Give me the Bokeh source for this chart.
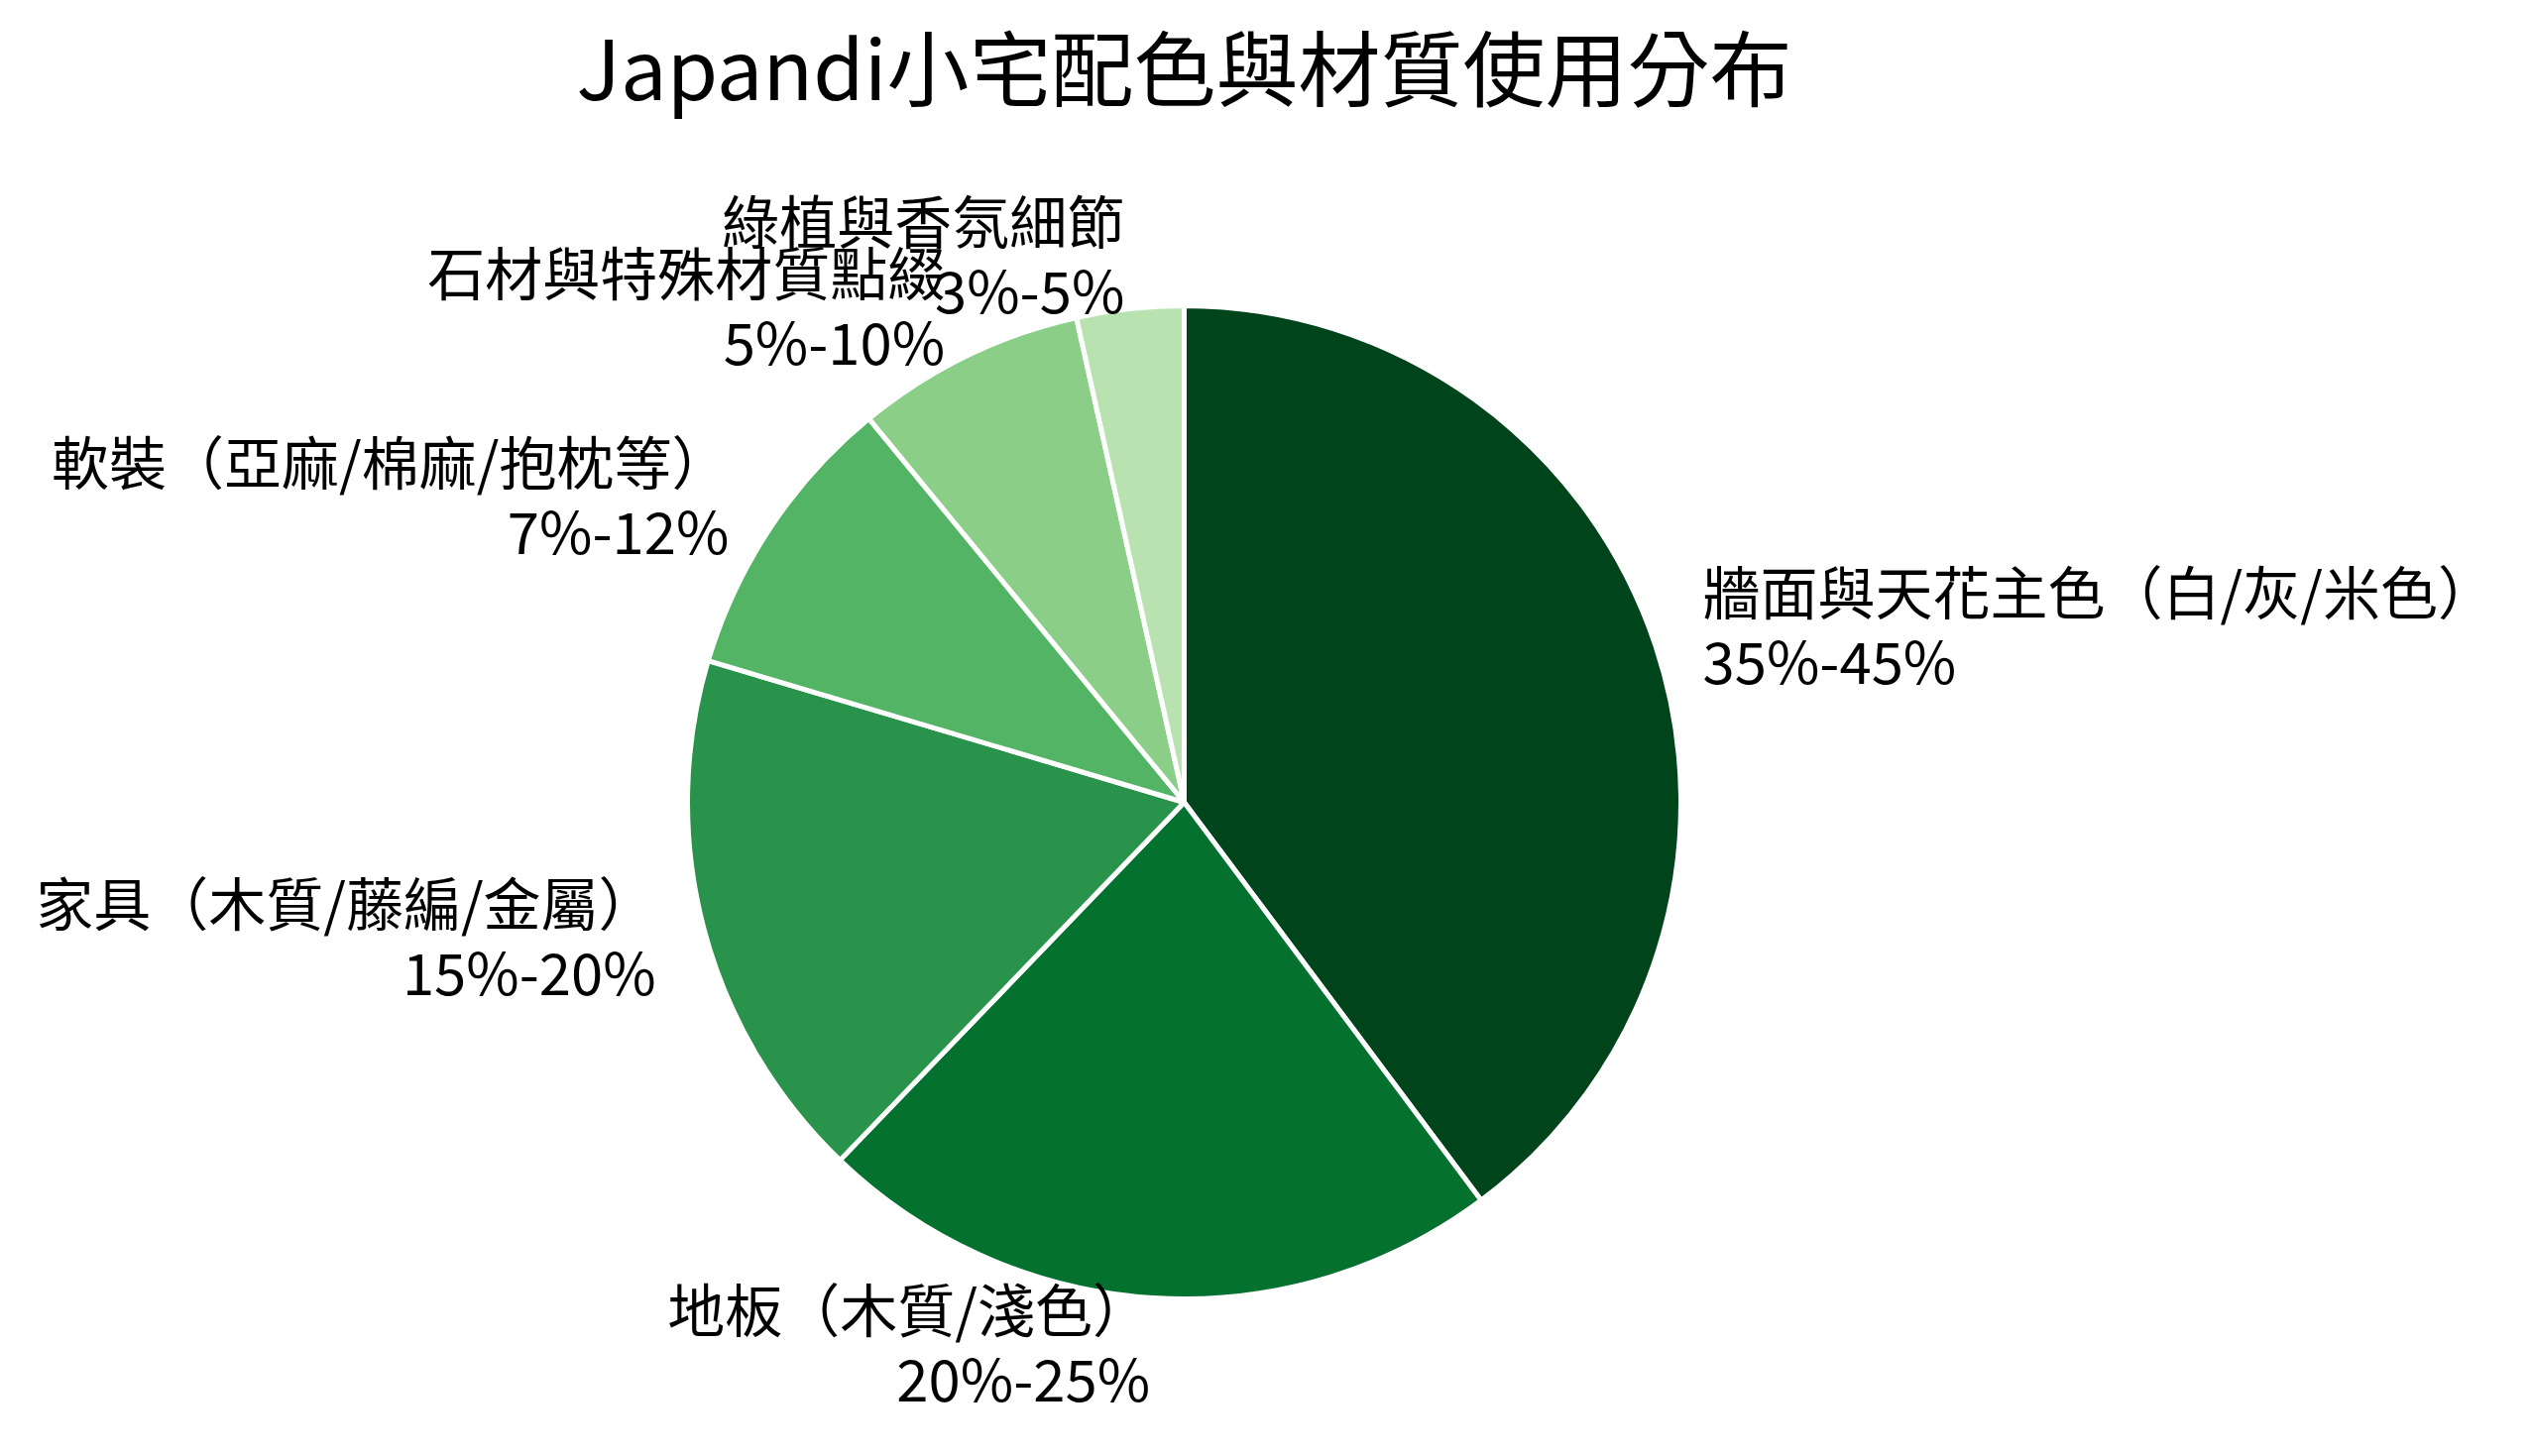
import numpy as np
from bokeh.plotting import figure
from bokeh.models import Range1d, ColumnDataSource
from bokeh.core.properties import value
from bokeh.embed import file_html
from bokeh.resources import INLINE

# slices, clockwise from 12 o'clock
categories = ["牆面與天花主色（白/灰/米色）", "地板（木質/淺色）", "家具（木質/藤編/金屬）",
              "軟裝（亞麻/棉麻/抱枕等）", "石材與特殊材質點綴", "綠植與香氛細節"]
ranges = ["35%-45%", "20%-25%", "15%-20%", "7%-12%", "5%-10%", "3%-5%"]
shares = [40, 22.5, 17.5, 9.5, 7.5, 3.5]
colors = ["#00441b", "#04712f", "#2a934b", "#53b466", "#8ace88", "#b8e3b1"]

title = "Japandi小宅配色與材質使用分布"
FONT = "Noto Sans CJK TC"

W, H = 2537, 1453
R = 501            # pie radius, px
CX, CY = 1194, 809  # pie centre, px from figure top-left

vals = np.array(shares, dtype=float)
cum = np.concatenate([[0], np.cumsum(vals)]) / vals.sum()
start = np.pi / 2 - 2 * np.pi * cum[:-1]
end = np.pi / 2 - 2 * np.pi * cum[1:]
mid = (start + end) / 2
lx = 1.1 * np.cos(mid)
ly = 1.1 * np.sin(mid)

src = ColumnDataSource(dict(
    start=start, end=end, color=colors,
    lx=lx, ly=ly, name=categories, rng=ranges,
    align=["left" if v > 0 else "right" for v in lx],
))

p = figure(width=W, height=H,
           x_range=Range1d(-CX / R, (W - CX) / R),
           y_range=Range1d(-(H - CY) / R, CY / R),
           min_border=0, toolbar_location=None, output_backend="svg")
p.axis.visible = False
p.grid.visible = False
p.outline_line_color = None
p.background_fill_color = "white"
p.border_fill_color = "white"

p.wedge(x=0, y=0, radius=1, start_angle="start", end_angle="end", direction="clock",
        fill_color="color", line_color="white", line_width=5, source=src)

p.text(x="lx", y="ly", text="name", text_align="align", text_baseline="alphabetic",
       y_offset=-41, text_font=value(FONT), text_font_size="58px", text_color="black",
       source=src)
p.text(x="lx", y="ly", text="rng", text_align="align", text_baseline="alphabetic",
       y_offset=29, text_font=value(FONT), text_font_size="58px", text_color="black",
       source=src)

p.text(x=[0], y=[(CY - 64) / R], text=[title], text_align="center",
       text_baseline="alphabetic", text_font=value(FONT), text_font_size="83px",
       text_color="black")

open("out.html", "w").write(file_html(p, INLINE))
